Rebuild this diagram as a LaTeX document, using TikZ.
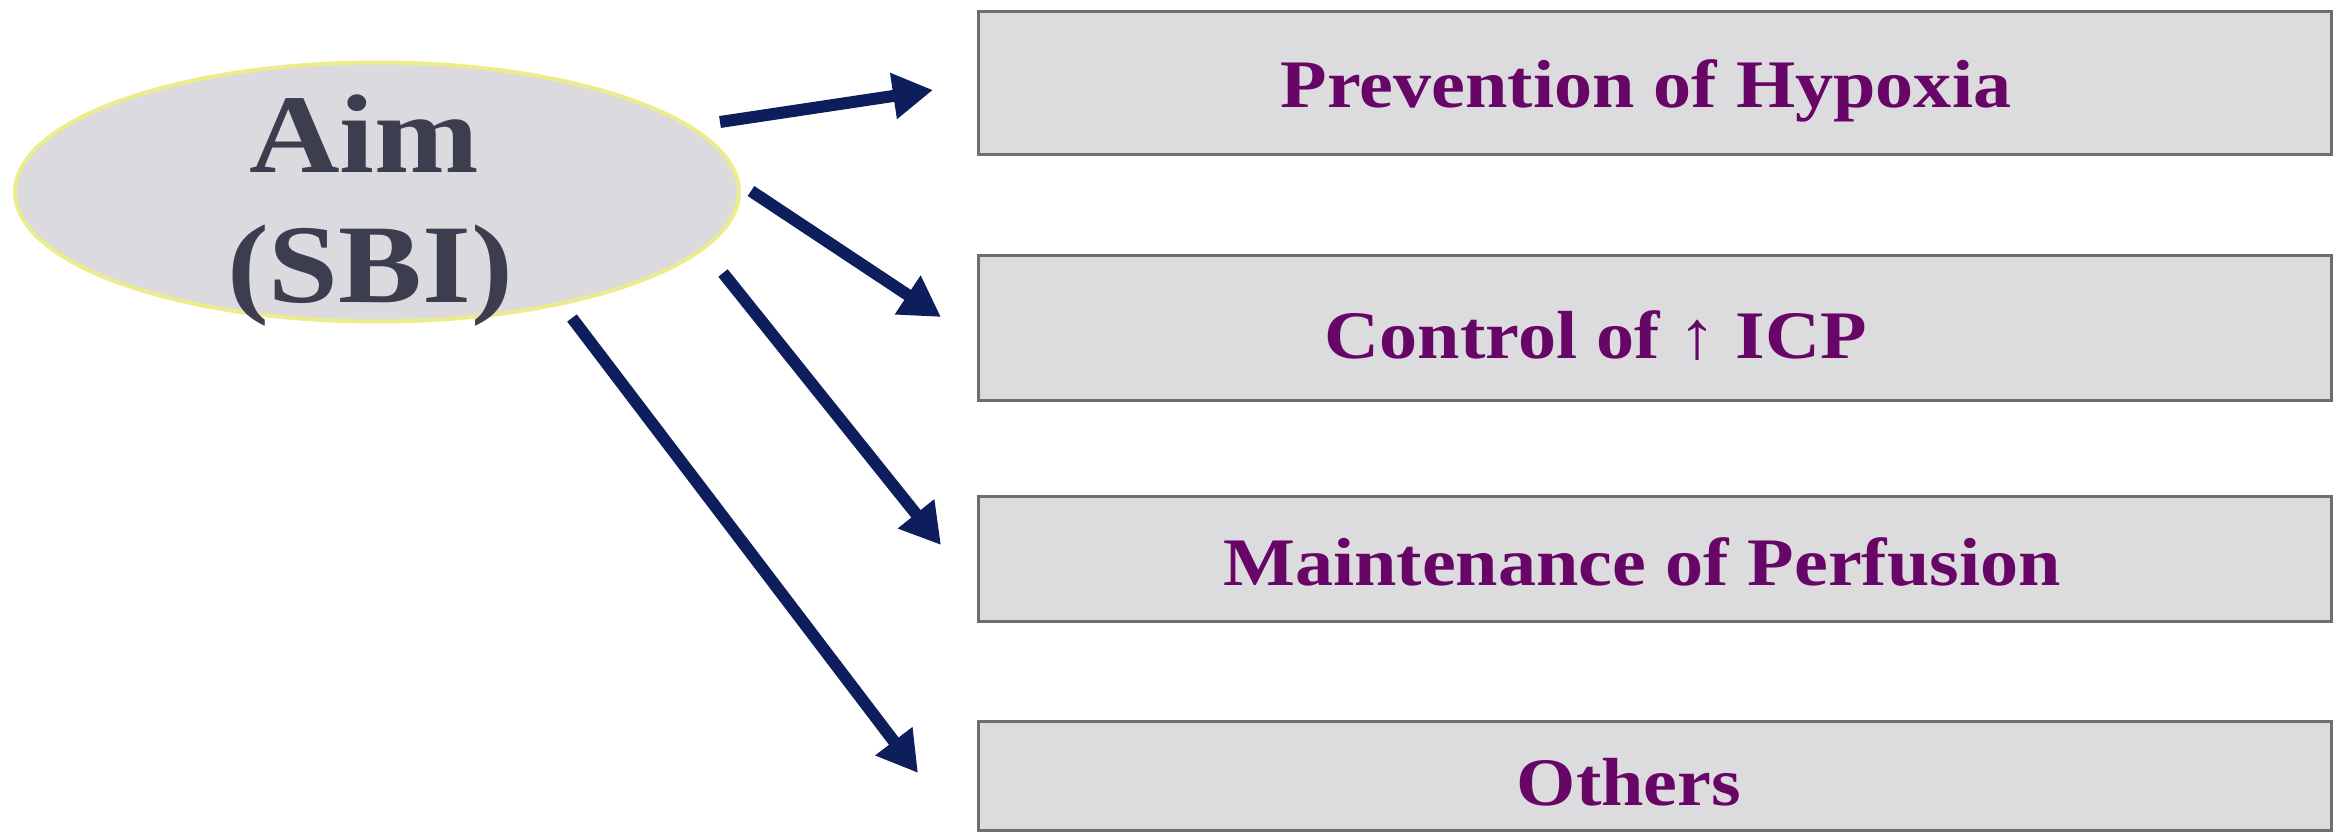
\documentclass[tikz,border=0pt]{standalone}
\usepackage{fontspec}
\setmainfont{Liberation Serif}
\newfontfamily\diafont[FakeStretch=1.12]{Liberation Serif}
\usetikzlibrary{arrows.meta,shapes.geometric}
\definecolor{boxfill}{RGB}{220,219,221}
\definecolor{boxline}{RGB}{110,110,112}
\definecolor{ellfill}{RGB}{218,218,223}
\definecolor{ellline}{RGB}{236,236,140}
\definecolor{aimtext}{RGB}{60,62,80}
\definecolor{purpletext}{RGB}{104,6,104}
\definecolor{arrowblue}{RGB}{14,30,92}
\tikzset{
  aimell/.style={ellipse, draw=ellline, line width=4pt, fill=ellfill, inner sep=0pt, minimum width=724pt, minimum height=259pt},
  aimlbl/.style={anchor=base, inner sep=0pt, text=aimtext, font=\diafont\bfseries\fontsize{112}{130}\selectfont},
  itembox/.style={rectangle, draw=boxline, line width=3pt, fill=boxfill, inner sep=0pt, minimum width=1353pt},
  itemlbl/.style={anchor=base, inner sep=0pt, text=purpletext, font=\diafont\bfseries\fontsize{68}{80}\selectfont},
  link/.style={draw=arrowblue, line width=12pt, -{Triangle[length=40pt,width=44pt]}}
}
\begin{document}
\begin{tikzpicture}[x=1pt,y=-1pt]
\useasboundingbox (0,0) rectangle (2341,832);
% central ellipse
\node[aimell] (aim) at (377,192) {};
\node[aimlbl] (aim1) at (364,172) {Aim};
\node[aimlbl] (aim2) at (370,302) {(SBI)};
% boxes
\node[itembox, minimum height=142pt] (b1) at (1654.5,83) {};
\node[itembox, minimum height=145pt] (b2) at (1654.5,327.5) {};
\node[itembox, minimum height=125pt] (b3) at (1654.5,558.5) {};
\node[itembox, minimum height=109pt] (b4) at (1654.5,775.5) {};
\node[itemlbl] (t1) at (1646,108) {Prevention of Hypoxia};
\node[itemlbl] (t2) at (1596,358) {Control of ↑ ICP};
\node[itemlbl] (t3) at (1642,585) {Maintenance of Perfusion};
\node[itemlbl] (t4) at (1629,805) {Others};
% arrow end points
\coordinate (s1) at (720,122);
\coordinate (e1) at (933,90);
\coordinate (s2) at (751,191);
\coordinate (e2) at (941,317);
\coordinate (s3) at (723,273);
\coordinate (e3) at (941,545);
\coordinate (s4) at (572,318);
\coordinate (e4) at (918,773);
\draw[link] (s1) -- (e1);
\draw[link] (s2) -- (e2);
\draw[link] (s3) -- (e3);
\draw[link] (s4) -- (e4);
\end{tikzpicture}
\end{document}
